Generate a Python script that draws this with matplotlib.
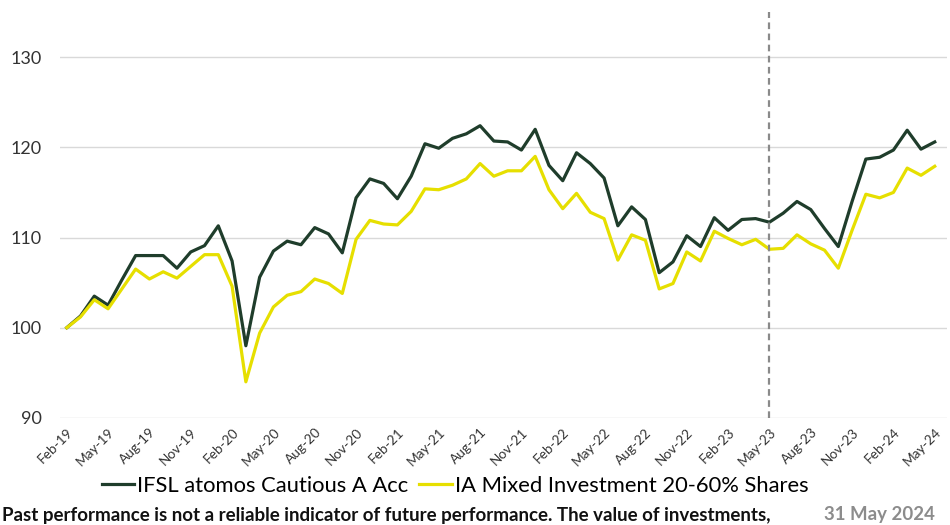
"""
Rendimiento acumulado: IFSL atomos Cautious A Acc frente al sector IA Mixed Investment 20-60%.
"""

import numpy as np
import pandas as pd
import matplotlib
matplotlib.use("Agg")
import matplotlib.pyplot as plt

plt.rcParams['font.family'] = ['Lato', 'DejaVu Sans']

# meses Feb-19 .. May-24 (64 puntos mensuales)
meses = pd.date_range("2019-02-01", "2024-05-01", freq="MS")
etiquetas = [d.strftime("%b-%y") for d in meses]

serie_fondo = [
    100.0, 101.3, 103.5, 102.5, 105.3, 108.0, 108.0, 108.0, 106.6, 108.4,
    109.1, 111.3, 107.4, 98.0, 105.6, 108.5, 109.6, 109.2, 111.1, 110.4,
    108.3, 114.4, 116.5, 116.0, 114.3, 116.8, 120.4, 119.9, 121.0, 121.5,
    122.4, 120.7, 120.6, 119.7, 122.0, 118.0, 116.3, 119.4, 118.2, 116.6,
    111.3, 113.4, 112.0, 106.1, 107.3, 110.2, 109.0, 112.2, 110.8, 112.0,
    112.1, 111.7, 112.7, 114.0, 113.1, 111.0, 109.0, 114.0, 118.7, 118.9,
    119.7, 121.9, 119.8, 120.6,
]
serie_sector = [
    100.0, 101.2, 103.1, 102.1, 104.3, 106.5, 105.4, 106.2, 105.5, 106.8,
    108.1, 108.1, 104.6, 94.0, 99.4, 102.3, 103.6, 104.0, 105.4, 104.9,
    103.8, 109.8, 111.9, 111.5, 111.4, 112.9, 115.4, 115.3, 115.8, 116.5,
    118.2, 116.8, 117.4, 117.4, 119.0, 115.3, 113.2, 114.9, 112.8, 112.1,
    107.5, 110.3, 109.7, 104.3, 104.9, 108.4, 107.4, 110.7, 109.9, 109.2,
    109.8, 108.7, 108.8, 110.3, 109.3, 108.6, 106.6, 110.8, 114.8, 114.4,
    115.0, 117.7, 116.9, 117.9,
]
nombres = ["IFSL atomos Cautious A Acc", "IA Mixed Investment 20-60% Shares"]
marca_vertical = "May-23"

x = np.arange(len(meses))

fig = plt.figure(figsize=(9.5, 5.25), dpi=100)
ax = fig.add_axes([0.063, 0.204, 0.934, 0.773])

ax.plot(x, serie_fondo, color="#1f3d2b", linewidth=2.3, label=nombres[0])
ax.plot(x, serie_sector, color="#e6df00", linewidth=2.3, label=nombres[1])

ax.axvline(etiquetas.index(marca_vertical), color="#8a8a8a", linestyle="--",
           linewidth=1.6, dashes=(3, 2))

ax.set_ylim(90, 135)
ax.set_xlim(-0.5, 63.9)
ax.set_yticks([90, 100, 110, 120, 130])
ax.grid(axis="y", color="#d9d9d9", linewidth=1)
ax.set_axisbelow(True)

ax.set_xticks(x[::3])
ax.set_xticklabels(etiquetas[::3], rotation=45, ha="right",
                   rotation_mode="anchor", fontsize=9.8, color="#333333")
ax.tick_params(axis="x", length=0, pad=6)
ax.tick_params(axis="y", length=0, pad=13, labelsize=13, labelcolor="#333333")

for lado in ax.spines.values():
    lado.set_visible(False)

fig.legend(loc="center", bbox_to_anchor=(0.479, 0.074), ncol=2, frameon=False,
           fontsize=15.8, handlelength=1.5, handletextpad=0.12, columnspacing=0.5)

fig.text(0.002, 0.018,
         "Past performance is not a reliable indicator of future performance. "
         "The value of investments,",
         ha="left", va="center", fontsize=13.5, fontweight="bold", color="#111111")
fig.text(0.984, 0.02, "31 May 2024", ha="right", va="center", fontsize=13.4,
         fontweight="bold", color="#8c8c8c")

fig.savefig("out.png", dpi=100)
